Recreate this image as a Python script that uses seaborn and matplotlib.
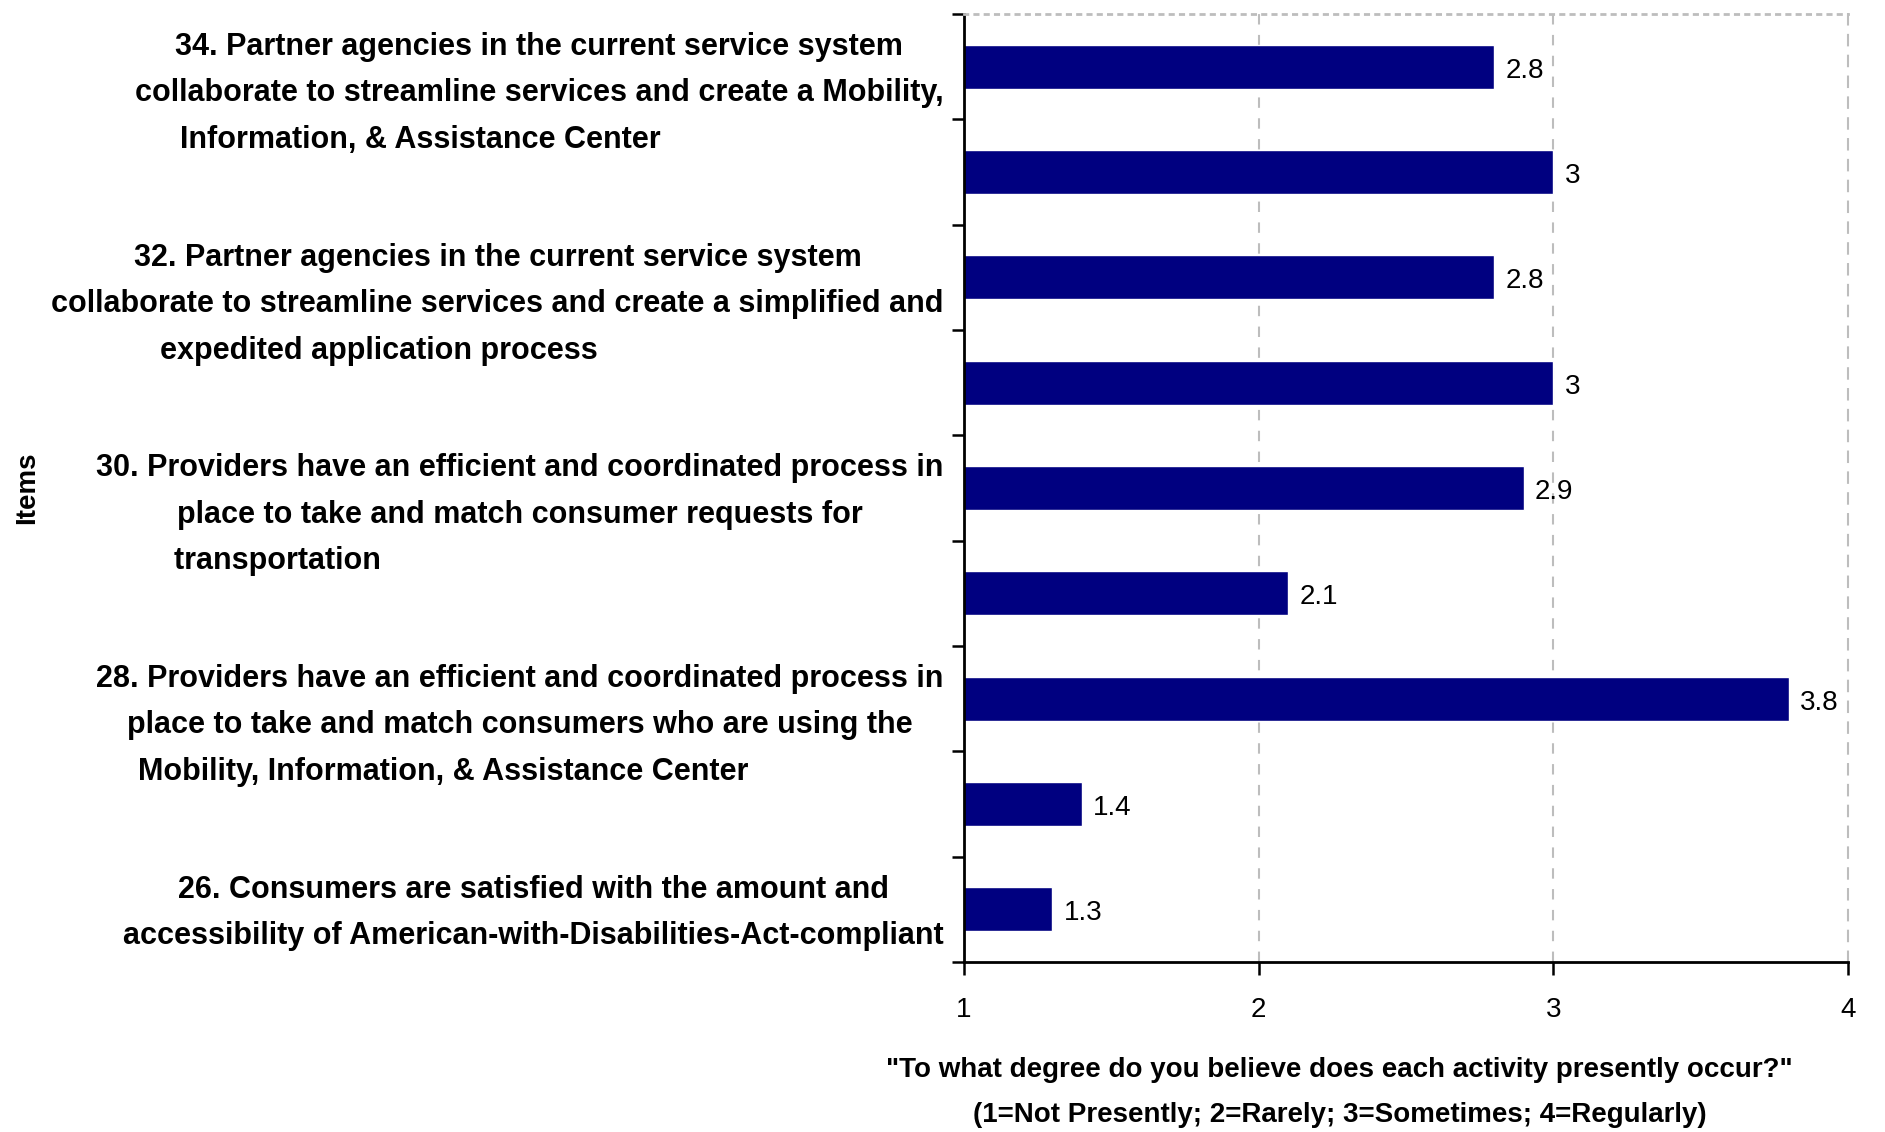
import matplotlib
matplotlib.use("Agg")
import matplotlib.pyplot as plt
import matplotlib.transforms as mtransforms
import seaborn as sns
import pandas as pd
import numpy as np

# ---- data ----
item_ids = ["34", "33", "32", "31", "30", "29", "28", "27", "26"]
scores = [2.8, 3, 2.8, 3, 2.9, 2.1, 3.8, 1.4, 1.3]
item_labels = [
    "34. Partner agencies in the current service system\n"
    "collaborate to streamline services and create a Mobility,\n"
    "Information, & Assistance Center" + " " * 28,
    "",
    "32. Partner agencies in the current service system\n"
    "collaborate to streamline services and create a simplified and\n"
    "expedited application process" + " " * 28,
    "",
    "30. Providers have an efficient and coordinated process in\n"
    "place to take and match consumer requests for\n"
    "transportation" + " " * 57,
    "",
    "28. Providers have an efficient and coordinated process in\n"
    "place to take and match consumers who are using the\n"
    "Mobility, Information, & Assistance Center" + " " * 18,
    "",
    "26. Consumers are satisfied with the amount and\n"
    "accessibility of American-with-Disabilities-Act-compliant",
]
x_ticks = [1, 2, 3, 4]
x_label = ('"To what degree do you believe does each activity presently occur?"\n'
           "(1=Not Presently; 2=Rarely; 3=Sometimes; 4=Regularly)")
y_label = "Items"

df = pd.DataFrame({"item": item_ids, "score": scores})

sns.set_style("ticks")
plt.rcParams["font.family"] = ["Liberation Sans", "DejaVu Sans"]
plt.rcParams["text.color"] = "black"
plt.rcParams["axes.labelcolor"] = "black"
plt.rcParams["xtick.color"] = "black"
plt.rcParams["ytick.color"] = "black"

W, H = 1885, 1132
fig = plt.figure(figsize=(W / 100, H / 100), dpi=100)
ax_l, ax_r, ax_t, ax_b = 964, 1848, 14, 962
ax = fig.add_axes([ax_l / W, 1 - ax_b / H, (ax_r - ax_l) / W, (ax_b - ax_t) / H])

sns.barplot(data=df, x="score", y="item", orient="h", color="#000080",
            saturation=1, width=0.42, ax=ax, order=item_ids)

ax.set_xlim(1, 4)
ax.set_xticks(x_ticks)
ax.set_xticklabels([str(t) for t in x_ticks], fontsize=20)
ax.tick_params(axis="x", direction="out", length=9, width=1.8, pad=16, color="black")

# category boundaries as tick marks
n = len(item_ids)
ax.set_yticks(np.arange(-0.5, n, 1.0))
ax.set_yticklabels([])
ax.tick_params(axis="y", direction="out", length=9, width=1.8)

# gridlines
for xv in x_ticks[1:-1]:
    ax.axvline(xv, color="#bdbdbd", lw=1.5, ls=(0, (5, 5)), zorder=0)

for s in ["left", "bottom"]:
    ax.spines[s].set_color("black")
    ax.spines[s].set_linewidth(2)
ax.spines["right"].set_color("#bdbdbd")
ax.spines["right"].set_linewidth(1.5)
ax.spines["right"].set_linestyle((0, (5, 5)))
ax.spines["top"].set_color("#bdbdbd")
ax.spines["top"].set_linewidth(2)
ax.spines["top"].set_linestyle((0, (1.2, 2.5)))

# bar value labels
for t in ax.bar_label(ax.containers[0], labels=[f"{v:g}" for v in scores],
                      padding=8, fontsize=20):
    t.set_va("center")
    t.set_y(-3)

# category labels
trans = mtransforms.blended_transform_factory(ax.transAxes, ax.transData)
for i, lab in enumerate(item_labels):
    if lab:
        ax.text(-0.023, i - 0.33, lab, transform=trans, ha="right", va="top",
                multialignment="center", fontsize=22, fontweight="bold",
                linespacing=1.72)

ax.set_xlabel(x_label, fontsize=20, fontweight="bold", linespacing=1.96)
ax.xaxis.set_label_coords(0.425, -0.1)
ax.xaxis.label.set_va("top")
ax.set_ylabel(y_label, fontsize=20, fontweight="bold")
ax.yaxis.set_label_coords(-1.045, 0.5)

fig.savefig("out.png", dpi=100)
